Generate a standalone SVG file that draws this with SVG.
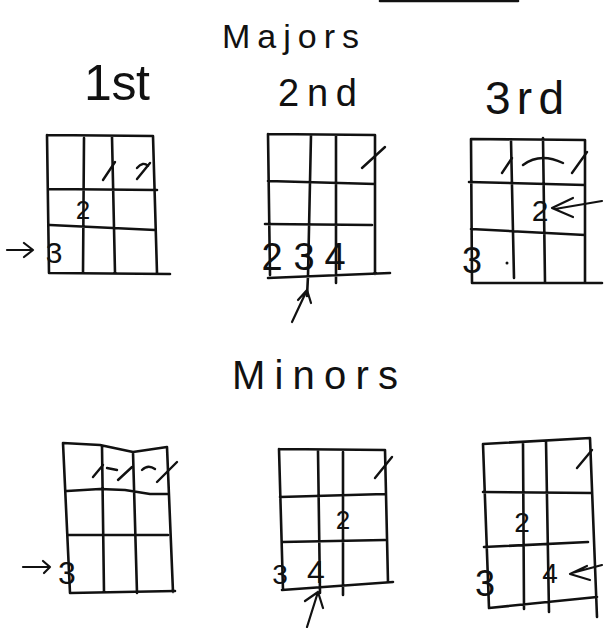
<svg xmlns="http://www.w3.org/2000/svg" width="605" height="628" viewBox="0 0 605 628">
<style>
.g{fill:none;stroke:#111;stroke-width:2.6;stroke-linecap:round;stroke-linejoin:round}
.m{fill:none;stroke:#111;stroke-width:2.4;stroke-linecap:round;stroke-linejoin:round}
.c{fill:none;stroke:#111;stroke-width:2.2;stroke-linecap:round;stroke-linejoin:round}
.t{font-family:"Liberation Sans","DejaVu Sans",sans-serif;fill:#111}
.n{font-family:"Liberation Sans","DejaVu Sans",sans-serif;fill:#111;text-anchor:middle}
</style>
<rect width="605" height="628" fill="#fff"/>
<path class="g" d="M380,1 L518,1"/>
<g id="titles">
<text class="t" x="222" y="48" font-size="34" textLength="137" lengthAdjust="spacing">Majors</text>
<text class="t" x="84" y="100" font-size="50" textLength="66" lengthAdjust="spacing">1st</text>
<text class="t" x="278" y="106" font-size="38" textLength="79" lengthAdjust="spacing">2nd</text>
<text class="t" x="485" y="114" font-size="46" textLength="79" lengthAdjust="spacing">3rd</text>
<text class="t" x="232" y="389" font-size="40" textLength="166" lengthAdjust="spacing">Minors</text>
</g>
<g id="major-1st">
<path class="g" d="M47,135 L153,136 M47,135 L49,273 M153,136 L157,273 M49,273 L170,274 M84,138 L83,273 M112,137 L115,273 M48,189 L157,190 M50,225 L155,230"/>
<path class="m" d="M103,180 L115,162 M137,179 L150,163 M137,168 Q143,161 148,166"/>
<text class="n" x="83" y="219" font-size="26">2</text>
<text class="n" x="54" y="263" font-size="30">3</text>
</g>
<g id="major-2nd">
<path class="g" d="M268,134 L375,135 M268,134 L270,275 M375,135 L375,274 M268,278 L390,273 M311,135 L308,276 L307,296 M336,135 L336,283 M268,181 L375,184 M265,224 L372,225"/>
<path class="m" d="M362,168 L385,147"/>
<text class="n" x="272" y="270" font-size="38">2</text>
<text class="n" x="304" y="270" font-size="38">3</text>
<text class="n" x="335" y="270" font-size="38">4</text>
</g>
<g id="major-3rd">
<path class="g" d="M471,139 L585,140 M471,139 L472,283 M585,140 L585,283 M472,283 L602,283 M511,140 L514,278 M543,138 L545,282 M469,182 L585,185 M471,229 L585,235"/>
<path class="m" d="M502,173 L512,158 M523,165 Q540,152 563,163 M572,173 L587,152"/>
<text class="n" x="540" y="221" font-size="30">2</text>
<text class="n" x="472" y="273" font-size="36">3</text>
<circle cx="507" cy="263" r="1.5" fill="#111"/>
</g>
<g id="minor-1st">
<path class="g" d="M63,443 L100,445 L133,452 L167,447 M63,443 L70,593 M167,447 L173,592 M70,593 L175,591 M102,446 L104,592 M133,452 L137,593 M67,491 L100,489 L125,490 L150,494 L167,494 M68,535 L168,535"/>
<path class="m" d="M93,477 L103,465 M107,468 L117,470 M118,480 L132,467 M142,470 Q148,464 155,469 M157,482 L177,462"/>
<text class="n" x="67" y="584" font-size="32">3</text>
</g>
<g id="minor-2nd">
<path class="g" d="M279,449 L385,450 M279,449 L283,590 M385,450 L388,582 M282,590 L393,582 M318,451 L320,593 M343,452 L343,595 M280,497 L385,494 M282,542 L385,540"/>
<path class="m" d="M375,478 L392,457"/>
<text class="n" x="343" y="529" font-size="26">2</text>
<text class="n" x="280" y="584" font-size="28">3</text>
<text class="n" x="316" y="583" font-size="32">4</text>
</g>
<g id="minor-3rd">
<path class="g" d="M483,444 L590,438 M483,444 L489,608 M590,438 L597,617 M489,608 L597,597 M523,443 L524,609 M546,441 L549,612 M483,492 L592,493 M484,547 L588,542"/>
<path class="m" d="M577,468 L592,450"/>
<text class="n" x="522" y="532" font-size="28">2</text>
<text class="n" x="485" y="596" font-size="36">3</text>
<text class="n" x="550" y="583" font-size="28">4</text>
</g>
<g id="connectors">
<path class="c" d="M7,250 L33,250 M24,243 L33,250 L24,257"/>
<path class="c" d="M292,322 L307,290 M298,300 L307,290 L311,303"/>
<path class="c" d="M602,201 L555,209 M573,198 L552,208 L573,217"/>
<path class="c" d="M23,567 L50,567 M43,561 L50,567 L44,573"/>
<path class="c" d="M307,627 L318,592 M305,601 L318,592 L323,608"/>
<path class="c" d="M602,565 L572,573 M587,566 L570,574 L590,580"/>
</g>
</svg>
